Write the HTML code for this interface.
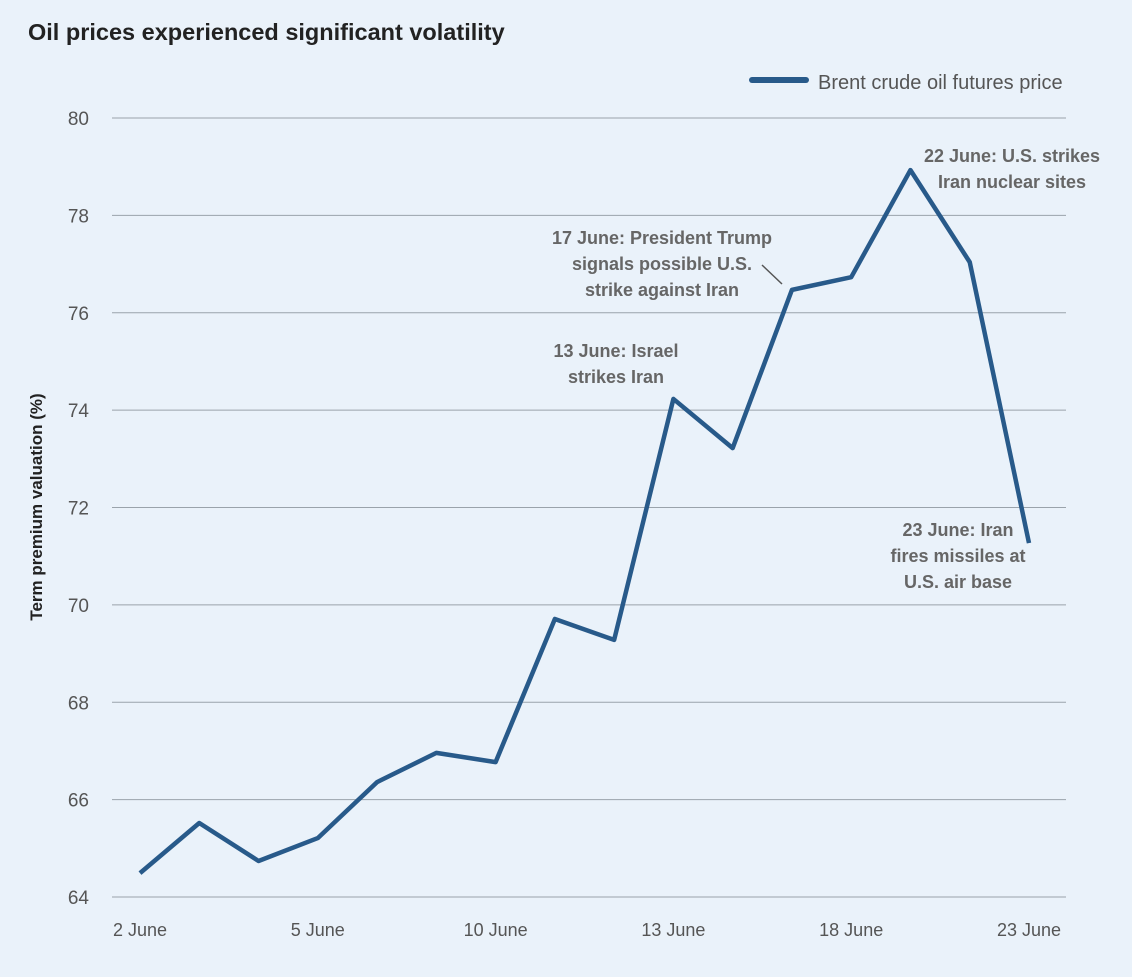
<!DOCTYPE html>
<html><head><meta charset="utf-8"><style>
body{margin:0;background:#eaf2fa;font-family:"Liberation Sans",sans-serif;}
svg text{font-family:"Liberation Sans",sans-serif;}
</style></head><body>
<svg width="1132" height="972" viewBox="0 0 1132 972">
<rect width="1132" height="972" fill="#eaf2fa"/>
<text x="28" y="40" font-size="23.5" font-weight="bold" fill="#222">Oil prices experienced significant volatility</text>
<line x1="752" y1="80" x2="806" y2="80" stroke="#285a8a" stroke-width="6" stroke-linecap="round"/>
<text x="818" y="89" font-size="20" fill="#555">Brent crude oil futures price</text>
<text transform="translate(42,507) rotate(-90)" text-anchor="middle" font-size="17" font-weight="bold" fill="#222">Term premium valuation (%)</text>
<g id="grid"></g><g id="ylab"></g><g id="xlab"></g>
<path id="line" fill="none" stroke="#285a8a" stroke-width="4.5" stroke-linejoin="round"/>
<g font-size="18" font-weight="bold" fill="#666" text-anchor="middle">
<text x="1012" y="162">22 June: U.S. strikes</text>
<text x="1012" y="188">Iran nuclear sites</text>
<text x="662" y="244">17 June: President Trump</text>
<text x="662" y="270">signals possible U.S.</text>
<text x="662" y="296">strike against Iran</text>
<text x="616" y="357">13 June: Israel</text>
<text x="616" y="383">strikes Iran</text>
<text x="958" y="536">23 June: Iran</text>
<text x="958" y="562">fires missiles at</text>
<text x="958" y="588">U.S. air base</text>
</g>
<line x1="762" y1="265" x2="782" y2="284" stroke="#555" stroke-width="1.5"/>
</svg>
<script>
const categories=["2 June","3 June","4 June","5 June","6 June","9 June","10 June","11 June","12 June","13 June","16 June","17 June","18 June","19 June","20 June","23 June"];
const prices=[64.49,65.52,64.74,65.21,66.36,66.96,66.77,69.71,69.28,74.23,73.22,76.47,76.73,78.93,77.04,71.27];
const yTicks=[64,66,68,70,72,74,76,78,80];
const xTickLabels=["2 June","5 June","10 June","13 June","18 June","23 June"];
const NS="http://www.w3.org/2000/svg";
const y=v=>897-(v-64)*(897-118)/16;
const x=i=>140+i*(1029-140)/(categories.length-1);
const grid=document.getElementById('grid'),yl=document.getElementById('ylab'),xl=document.getElementById('xlab');
yTicks.forEach(t=>{
 const l=document.createElementNS(NS,'line');
 l.setAttribute('x1',112);l.setAttribute('x2',1066);l.setAttribute('y1',y(t));l.setAttribute('y2',y(t));
 l.setAttribute('stroke','#9aa3ab');l.setAttribute('stroke-width',1);
 
 
 grid.appendChild(l);
 const tx=document.createElementNS(NS,'text');
 tx.setAttribute('x',89);tx.setAttribute('y',y(t)+7);tx.setAttribute('text-anchor','end');
 tx.setAttribute('font-size',19);tx.setAttribute('fill','#555');tx.textContent=t;
 
 
 yl.appendChild(tx);
});
xTickLabels.forEach(lab=>{
 const i=categories.indexOf(lab);
 const tx=document.createElementNS(NS,'text');
 tx.setAttribute('x',x(i));tx.setAttribute('y',936);tx.setAttribute('text-anchor','middle');
 tx.setAttribute('font-size',18);tx.setAttribute('fill','#555');tx.textContent=lab;
 
 
 xl.appendChild(tx);
});
document.getElementById('line').setAttribute('d',prices.map((v,i)=>(i?'L':'M')+x(i)+','+y(v)).join(' '));
</script>
</body></html>
